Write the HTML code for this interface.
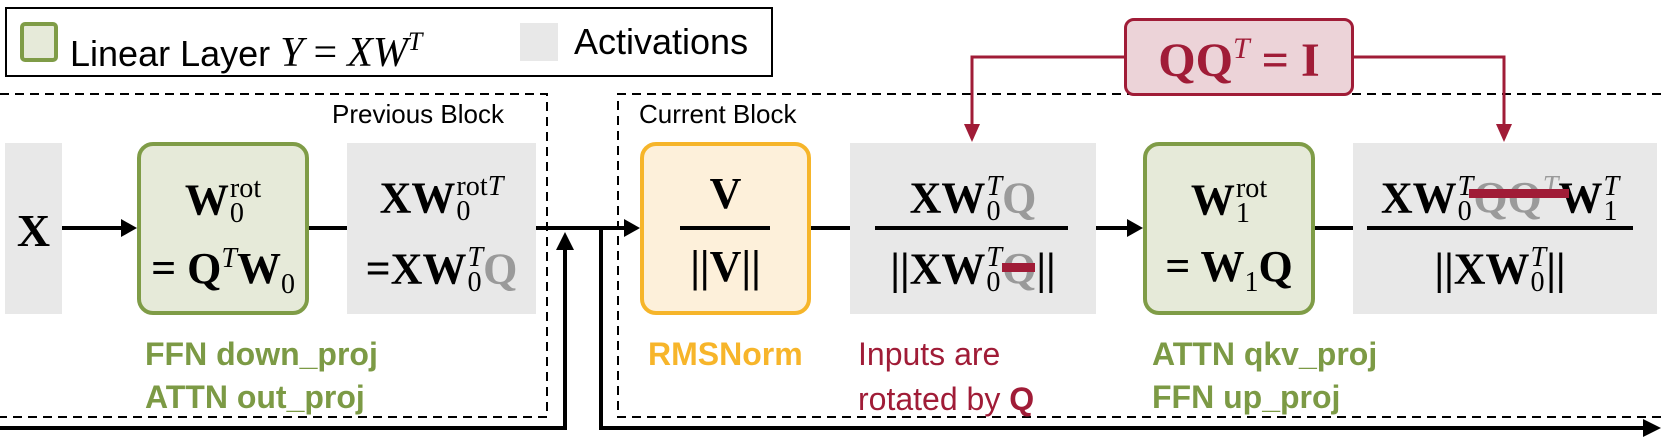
<!DOCTYPE html>
<html><head><meta charset="utf-8"><style>
body{margin:0;width:1661px;height:437px;position:relative;background:#fff;overflow:hidden;font-family:"Liberation Sans",sans-serif}
.a{position:absolute;box-sizing:border-box}
.gray{background:#e8e8e8}
.green{background:#e6ead9;border:4px solid #7f9c47;border-radius:16px}
.orange{background:#fdf0da;border:4px solid #f6b52a;border-radius:16px}
.row{position:absolute;text-align:center;font-family:"Liberation Serif",serif;font-weight:bold;font-size:44px;white-space:nowrap;line-height:1}
.st{display:inline-flex;flex-direction:column;font-size:0.64em;font-weight:normal;line-height:0.9;vertical-align:0.62em;text-align:left;margin-left:1px}
.st i{font-style:italic}
.g{color:#9a9a9a}
.lbl{position:absolute;font-weight:bold;font-size:32px;line-height:43px;white-space:nowrap}
.fl{position:absolute;height:4px;background:#000}
</style></head><body>
<!-- legend -->
<div class="a" style="left:5px;top:7px;width:768px;height:70px;border:2px solid #000"></div>
<div class="a" style="left:20px;top:22px;width:38px;height:40px;background:#e6ead9;border:4px solid #7f9c47;border-radius:5px"></div>
<div class="a" style="left:70px;top:20px;font-size:36px;line-height:44px;white-space:nowrap">Linear Layer <span style="font-family:'Liberation Serif',serif;font-style:italic;font-size:42px">Y</span> <span style="font-family:'Liberation Serif',serif;font-size:42px">=</span> <span style="font-family:'Liberation Serif',serif;font-style:italic;font-size:42px">XW<sup style="font-size:26px;vertical-align:16px">T</sup></span></div>
<div class="a" style="left:520px;top:23px;width:38px;height:38px;background:#e8e8e8"></div>
<div class="a" style="left:574px;top:20px;font-size:36px;line-height:44px">Activations</div>

<svg class="a" style="left:0;top:0" width="1661" height="437">
<g stroke="#000" stroke-width="2" stroke-dasharray="9,6" fill="none">
<path d="M0 94 H547 V417 H0"/>
<path d="M1661 94 H618 V417 H1661"/>
</g>
<g stroke="#000" stroke-width="4" fill="none">
<path d="M62 228 H125"/>
<path d="M309 228 H347"/>
<path d="M536 228 H628"/>
<path d="M0 428 H565 V245"/>
<path d="M601 228 V428 H1645"/>
<path d="M811 228 H850"/>
<path d="M1096 228 H1131"/>
<path d="M1315 228 H1353"/>
</g>
<g fill="#000">
<polygon points="137,228 121,219 121,237"/>
<polygon points="640,228 624,219 624,237"/>
<polygon points="565,232 556,250 574,250"/>
<polygon points="1661,428 1643,419 1643,437"/>
<polygon points="1143,228 1127,219 1127,237"/>
</g>
<g stroke="#a01c37" stroke-width="3" fill="none">
<path d="M1124 57 H972 V128"/>
<path d="M1354 57 H1504 V128"/>
</g>
<g fill="#a01c37">
<polygon points="972,142 964,124 980,124"/>
<polygon points="1504,142 1496,124 1512,124"/>
</g>
</svg>

<div class="a" style="left:332px;top:98px;font-size:26px;line-height:32px">Previous Block</div>
<div class="a" style="left:639px;top:98px;font-size:26px;line-height:32px">Current Block</div>

<div class="a" style="left:1124px;top:18px;width:230px;height:78px;background:#ecd3d8;border:3px solid #a01c37;border-radius:10px"></div>
<div class="row" style="left:1124px;top:34px;width:230px;color:#a01c37;font-size:48px;">QQ<sup style="font-size:30px;font-style:italic;font-weight:normal;vertical-align:18px">T</sup> = I</div>

<div class="a gray" style="left:5px;top:143px;width:57px;height:171px"></div>
<div class="row" style="left:5px;top:208px;width:57px;font-size:46px">X</div>

<div class="a green" style="left:137px;top:142px;width:172px;height:173px"></div>
<div class="row" style="left:137px;top:176px;width:172px">W<span class="st"><span>rot</span><span>0</span></span></div>
<div class="row" style="left:137px;top:245px;width:172px">= Q<sup style="font-size:28px;font-style:italic;font-weight:normal;vertical-align:16px">T</sup>W<sub style="font-size:28px;font-weight:normal">0</sub></div>

<div class="a gray" style="left:347px;top:143px;width:189px;height:171px"></div>
<div class="row" style="left:347px;top:174px;width:189px">XW<span class="st"><span>rot<i>T</i></span><span>0</span></span></div>
<div class="row" style="left:347px;top:245px;width:189px">=XW<span class="st"><i>T</i><span>0</span></span><span class="g">Q</span></div>

<div class="a orange" style="left:640px;top:142px;width:171px;height:173px"></div>
<div class="row" style="left:640px;top:172px;width:171px">V</div>
<div class="fl" style="left:680px;top:226px;width:90px"></div>
<div class="row" style="left:640px;top:245px;width:171px">||V||</div>

<div class="a gray" style="left:850px;top:143px;width:246px;height:171px"></div>
<div class="row" style="left:850px;top:174px;width:246px">XW<span class="st"><i>T</i><span>0</span></span><span class="g">Q</span></div>
<div class="fl" style="left:875px;top:226px;width:193px"></div>
<div class="row" style="left:850px;top:245px;width:246px">||XW<span class="st"><i>T</i><span>0</span></span><span class="g" style="position:relative">Q<span style="position:absolute;left:0;top:19px;width:33px;height:9px;background:#a01c37"></span></span>||</div>

<div class="a green" style="left:1143px;top:142px;width:172px;height:173px"></div>
<div class="row" style="left:1143px;top:176px;width:172px">W<span class="st"><span>rot</span><span>1</span></span></div>
<div class="row" style="left:1143px;top:245px;width:172px">= W<sub style="font-size:28px;font-weight:normal">1</sub>Q</div>

<div class="a gray" style="left:1353px;top:143px;width:304px;height:171px"></div>
<div class="row" style="left:1353px;top:174px;width:294px">XW<span class="st"><i>T</i><span>0</span></span><span class="g" style="position:relative">QQ<span class="st"><i>T</i><span>&nbsp;</span></span><span style="position:absolute;left:-4px;top:16px;width:100px;height:9px;background:#a01c37"></span></span>W<span class="st"><i>T</i><span>1</span></span></div>
<div class="fl" style="left:1367px;top:226px;width:266px"></div>
<div class="row" style="left:1353px;top:245px;width:294px">||XW<span class="st"><i>T</i><span>0</span></span>||</div>

<div class="lbl" style="left:145px;top:333px;color:#7c9a45">FFN down_proj</div>
<div class="lbl" style="left:145px;top:376px;color:#7c9a45">ATTN out_proj</div>
<div class="lbl" style="left:648px;top:333px;color:#f7b52a">RMSNorm</div>
<div class="lbl" style="left:858px;top:333px;color:#a01c37;font-weight:normal">Inputs are</div>
<div class="lbl" style="left:858px;top:378px;color:#a01c37;font-weight:normal">rotated by <b>Q</b></div>
<div class="lbl" style="left:1152px;top:333px;color:#7c9a45">ATTN qkv_proj</div>
<div class="lbl" style="left:1152px;top:376px;color:#7c9a45">FFN up_proj</div>
</body></html>
